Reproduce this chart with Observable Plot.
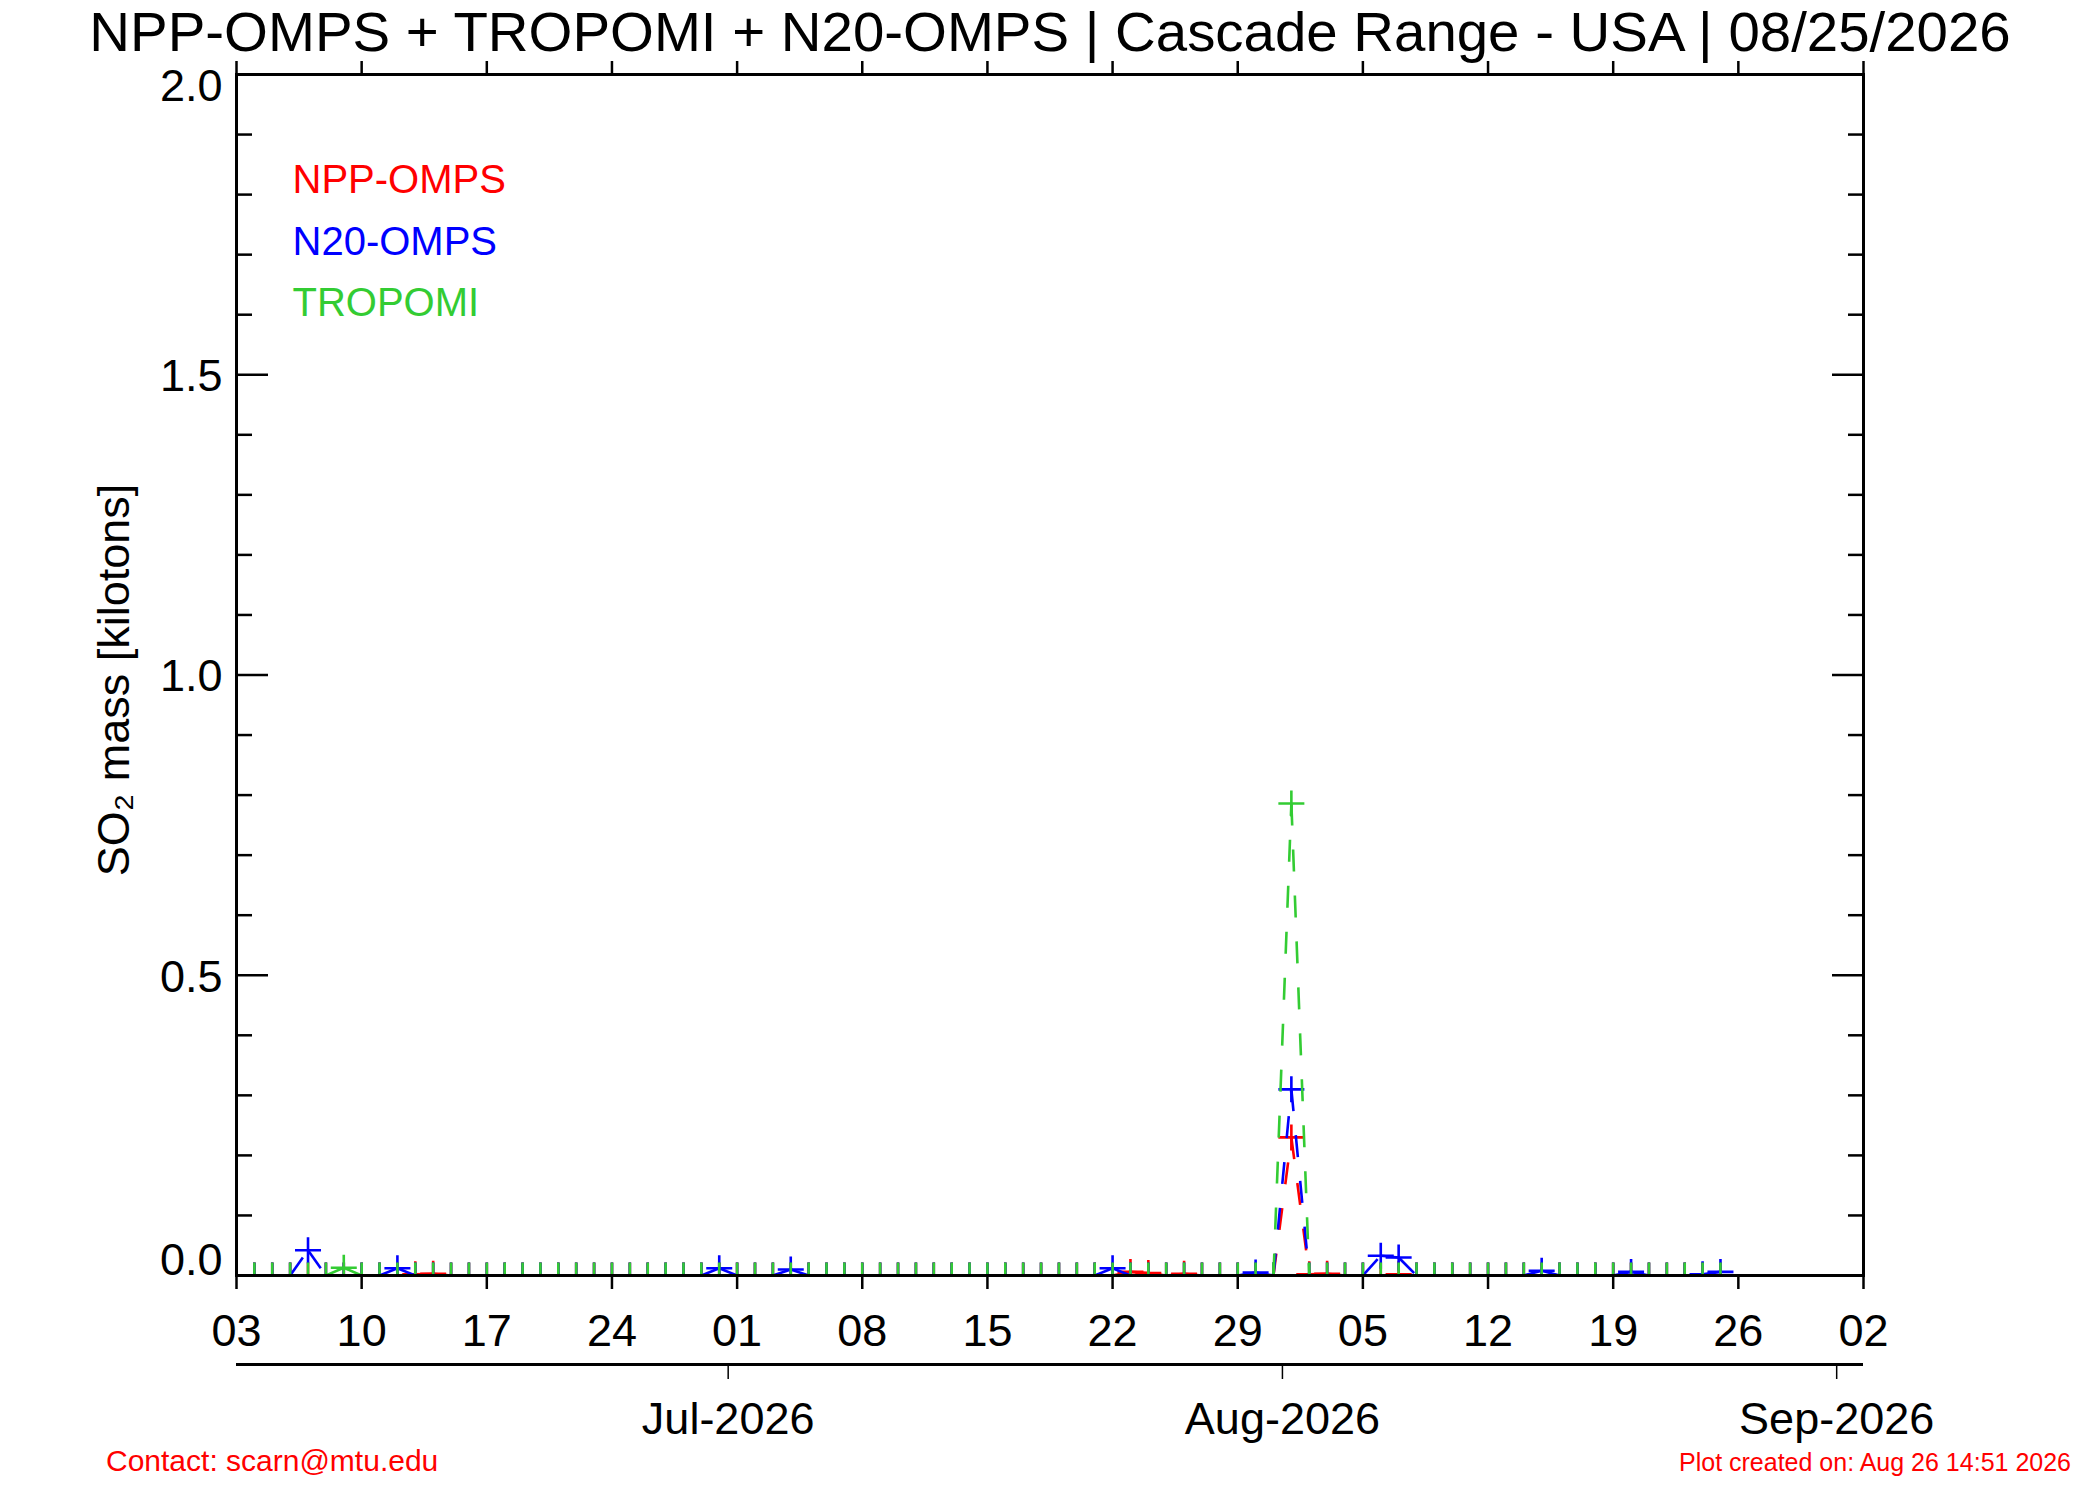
<!DOCTYPE html>
<html>
<head>
<meta charset="utf-8">
<script src="https://cdn.jsdelivr.net/npm/d3@7"></script>
<script src="https://cdn.jsdelivr.net/npm/@observablehq/plot@0.6"></script>
<style>
  body { margin: 0; background: #fff; font-family: "Liberation Sans", Arial, Helvetica, sans-serif; }
  #wrap { position: relative; width: 2100px; height: 1500px; overflow: hidden; background: #fff; }
  #title { position: absolute; left: 0; top: 0; width: 2100px; text-align: center; font-size: 56.4px; line-height: 64px; color: #000; white-space: nowrap; z-index: 2; }
  #chart { position: absolute; left: 0; top: 64px; z-index: 1; }
  #contact { position: absolute; left: 106px; top: 1446px; font-size: 30px; line-height: 30px; color: #ff0000; white-space: nowrap; }
  #created { position: absolute; right: 29px; top: 1450px; font-size: 25px; line-height: 25px; color: #ff0000; white-space: nowrap; }
</style>
</head>
<body>
<div id="wrap">
  <div id="title"></div>
  <div id="chart"></div>
  <div id="contact"></div>
  <div id="created"></div>
</div>
<script>
// ---------- data ----------
const titleText = "NPP-OMPS + TROPOMI + N20-OMPS | Cascade Range - USA | 08/25/2026";
const contactText = "Contact: scarn@mtu.edu";
const createdText = "Plot created on: Aug 26 14:51 2026";
const yLabelText = "SO\u2082 mass [kilotons]";

const seriesNames = ["NPP-OMPS", "N20-OMPS", "TROPOMI"];
const seriesColors = ["#ff0000", "#0000ff", "#33cc33"];

const firstDay = "2026-06-03";   // one value per day, Jun 03 .. Aug 25
const domainStart = "2026-06-03";
const domainEnd = "2026-09-02";

// daily SO2 mass [kt], index 0 = Jun 03
const nppOmps = [
  0, 0, 0, 0, 0, 0, 0, 0, 0, 0, 0.002, 0.003, 0, 0, 0, 0, 0, 0, 0, 0,
  0, 0, 0, 0, 0, 0, 0, 0, 0, 0, 0, 0, 0, 0, 0, 0, 0, 0, 0, 0,
  0, 0, 0, 0, 0, 0, 0, 0, 0, 0, 0.006, 0.004, 0, 0.003, 0, 0, 0, 0, 0, 0.23,
  0.002, 0.003, 0, 0, 0, 0.002, 0, 0, 0, 0, 0, 0, 0, 0, 0, 0, 0, 0, 0, 0,
  0, 0, 0, 0
];
const n20Omps = [
  0, 0, 0, 0, 0.042, 0, 0, 0, 0, 0.012, 0, 0, 0, 0, 0, 0, 0, 0, 0, 0,
  0, 0, 0, 0, 0, 0, 0, 0.012, 0, 0, 0, 0.01, 0, 0, 0, 0, 0, 0, 0, 0,
  0, 0, 0, 0, 0, 0, 0, 0, 0, 0.012, 0, 0, 0, 0, 0, 0, 0, 0.005, 0, 0.31,
  0, 0, 0, 0, 0.033, 0.03, 0, 0, 0, 0, 0, 0, 0, 0.008, 0, 0, 0, 0, 0.006, 0,
  0, 0, 0.002, 0.006
];
const tropomi = [
  0, 0, 0, 0, 0, 0, 0.013, 0, 0, 0, 0, 0, 0, 0, 0, 0, 0, 0, 0, 0,
  0, 0, 0, 0, 0, 0, 0, 0, 0, 0, 0, 0, 0, 0, 0, 0, 0, 0, 0, 0,
  0, 0, 0, 0, 0, 0, 0, 0, 0, 0, 0, 0, 0, 0, 0, 0, 0, 0, 0, 0.786,
  0, 0, 0, 0, 0, 0, 0, 0, 0, 0, 0, 0, 0, 0, 0, 0, 0, 0, 0, 0,
  0, 0, 0, 0
];

const weekTickDates = ["2026-06-03","2026-06-10","2026-06-17","2026-06-24","2026-07-01","2026-07-08","2026-07-15","2026-07-22","2026-07-29","2026-08-05","2026-08-12","2026-08-19","2026-08-26","2026-09-02"];
const weekTickLabels = ["03","10","17","24","01","08","15","22","29","05","12","19","26","02"];
// month ticks sit half a day before the month start in the original
const monthTickDates = ["2026-06-30T12:00:00Z","2026-07-31T12:00:00Z","2026-08-31T12:00:00Z"];
const monthTickLabels = ["Jul-2026","Aug-2026","Sep-2026"];
const yMajorTicks = [0, 0.5, 1.0, 1.5, 2.0];
const yMinorTicks = [0.1,0.2,0.3,0.4,0.6,0.7,0.8,0.9,1.1,1.2,1.3,1.4,1.6,1.7,1.8,1.9];
const yTickLabels = ["0.0","0.5","1.0","1.5","2.0"];

// ---------- build ----------
document.getElementById("title").textContent = titleText;
document.getElementById("contact").textContent = contactText;
document.getElementById("created").textContent = createdText;

const parse = s => new Date(s.length > 10 ? s : s + "T00:00:00Z");
const start = parse(firstDay);
const seriesValues = [nppOmps, n20Omps, tropomi];
const days = d3.utcDay.range(start, d3.utcDay.offset(start, nppOmps.length));

const rows = [], segs = [];
seriesValues.forEach((vals, s) => {
  const r = vals.map((v, i) => ({date: days[i], value: v, series: seriesNames[s]}));
  rows.push(r);
  segs.push(r.slice(1).map((d, i) => ({x1: r[i].date, y1: r[i].value, x2: d.date, y2: d.value})));
});

const plusSymbol = {
  draw(context, size) {
    const r = Math.sqrt(size / Math.PI);
    context.moveTo(-r, 0); context.lineTo(r, 0);
    context.moveTo(0, -r); context.lineTo(0, r);
  }
};

const weekDates = weekTickDates.map(parse);
const weekLabel = new Map(weekDates.map((d, i) => [+d, weekTickLabels[i]]));
const monthDates = monthTickDates.map(parse);
const monthLabel = new Map(monthDates.map((d, i) => [+d, monthTickLabels[i]]));
const yLab = new Map(yMajorTicks.map((v, i) => [v, yTickLabels[i]]));

const dataMarks = [];
[0, 1, 2].forEach(s => {
  dataMarks.push(Plot.link(segs[s], {x1: "x1", y1: "y1", x2: "x2", y2: "y2", stroke: seriesColors[s], strokeWidth: 2.6, strokeDasharray: "22,24", clip: true}));
  dataMarks.push(Plot.dot(rows[s], {x: "date", y: "value", symbol: plusSymbol, r: 13, stroke: seriesColors[s], fill: "none", strokeWidth: 2.6, clip: true}));
});

const legendMarks = seriesNames.map((name, i) =>
  Plot.text([name], {frameAnchor: "top-left", dx: 56, dy: 106 + i * 61.5, fill: seriesColors[i], fontSize: 40, textAnchor: "start", lineAnchor: "middle"})
);

const blank = () => "";

const chart = Plot.plot({
  width: 2100,
  height: 1380,
  marginTop: 10,
  marginBottom: 169,
  marginLeft: 236,
  marginRight: 237,
  style: {background: "transparent", overflow: "visible", fontFamily: "'Liberation Sans', Arial, Helvetica, sans-serif", fontSize: "45px", color: "#000"},
  x: {type: "utc", domain: [parse(domainStart), parse(domainEnd)], label: null},
  y: {domain: [0, 2], label: null},
  marks: [
    ...dataMarks,
    Plot.frame({stroke: "#000", strokeWidth: 3}),
    // y ticks (inward), left and right
    Plot.axisY(yMajorTicks, {anchor: "left", tickSize: -32, strokeWidth: 2.5, tickFormat: blank, label: null}),
    Plot.axisY(yMinorTicks, {anchor: "left", tickSize: -16, strokeWidth: 2.5, tickFormat: blank, label: null}),
    Plot.axisY(yMajorTicks, {anchor: "right", tickSize: -32, strokeWidth: 2.5, tickFormat: blank, label: null}),
    Plot.axisY(yMinorTicks, {anchor: "right", tickSize: -16, strokeWidth: 2.5, tickFormat: blank, label: null}),
    // y tick labels
    Plot.axisY(yMajorTicks.filter(v => v > 0 && v < 2), {anchor: "left", tickSize: 0, tickPadding: 14, dy: 2, tickFormat: v => yLab.get(v), fontSize: 45, label: null}),
    Plot.axisY([yMajorTicks[0]], {anchor: "left", tickSize: 0, tickPadding: 14, dy: -15, tickFormat: v => yLab.get(v), fontSize: 45, label: null}),
    Plot.axisY([yMajorTicks[yMajorTicks.length - 1]], {anchor: "left", tickSize: 0, tickPadding: 14, dy: 12, tickFormat: v => yLab.get(v), fontSize: 45, label: null}),
    // week ticks outward, top and bottom
    Plot.axisX(weekDates, {anchor: "bottom", tickSize: 14, tickPadding: 25, strokeWidth: 2.5, tickFormat: d => weekLabel.get(+d), fontSize: 45, label: null}),
    Plot.axisX(weekDates, {anchor: "top", tickSize: 14, strokeWidth: 2.5, tickFormat: blank, label: null}),
    // month axis below
    Plot.ruleY([0], {dy: 89, stroke: "#000", strokeWidth: 3}),
    Plot.axisX(monthDates, {anchor: "bottom", dy: 89, tickSize: 15, strokeWidth: 1.5, tickFormat: blank, label: null}),
    Plot.axisX(monthDates, {anchor: "bottom", dy: 89, tickSize: 0, tickPadding: 38, tickFormat: d => monthLabel.get(+d), fontSize: 45, label: null}),
    // y label
    Plot.text([yLabelText], {frameAnchor: "left", textAnchor: "middle", rotate: -90, dx: -122, dy: 5, fontSize: 45, lineAnchor: "middle", fill: "#000"}),
    ...legendMarks
  ]
});
document.getElementById("chart").appendChild(chart);
</script>
</body>
</html>
